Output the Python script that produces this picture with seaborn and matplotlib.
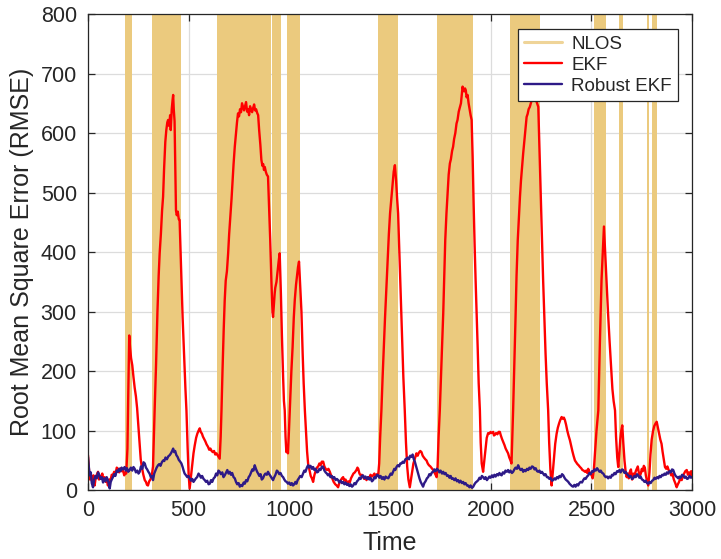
import numpy as np
import pandas as pd
import matplotlib
matplotlib.use("Agg")
import matplotlib.pyplot as plt
from matplotlib.lines import Line2D
import seaborn as sns

# ---- data ----
nlos_start = [186, 320, 643, 916, 986, 1438, 1734, 2098, 2512, 2638, 2774, 2799]
nlos_end = [221, 464, 911, 957, 1055, 1537, 1913, 2244, 2570, 2656, 2787, 2824]

# EKF (time, RMSE) samples
ekf_pts = [
    (0, 59), (5, 35), (10, 18), (17, 22), (22, 12), (27, 25), (33, 8), (38, 20), (44, 26), (50, 31),
    (55, 18), (60, 24), (66, 20), (71, 28), (77, 16), (83, 22), (88, 14), (93, 19), (99, 8), (105, 18),
    (111, 15), (118, 26), (124, 25), (130, 31), (137, 28), (143, 38), (149, 36), (155, 30), (161, 37),
    (168, 32), (174, 34), (180, 25), (186, 30), (190, 28), (196, 70), (200, 160), (205, 260), (209, 240),
    (214, 222), (220, 210), (226, 190), (232, 172), (238, 158), (244, 138), (250, 110), (256, 80),
    (262, 52), (268, 38), (275, 26), (282, 17), (288, 14), (293, 9), (298, 8), (304, 15), (310, 18),
    (315, 22), (319, 30), (323, 40), (327, 90), (331, 134), (338, 210), (345, 300), (351, 360),
    (356, 398), (362, 430), (368, 470), (373, 493), (378, 540), (384, 585), (389, 605), (394, 618),
    (398, 622), (403, 612), (408, 630), (411, 605), (416, 640), (420, 655), (423, 664), (426, 640),
    (430, 620), (434, 540), (437, 470), (441, 462), (446, 468), (451, 455), (455, 454), (462, 380),
    (470, 290), (478, 220), (484, 170), (489, 134), (495, 70), (500, 25), (505, 3), (512, 25), (518, 45),
    (524, 62), (530, 75), (537, 88), (543, 95), (549, 100), (555, 104), (560, 98), (566, 95), (571, 90),
    (577, 86), (583, 82), (589, 77), (596, 73), (602, 68), (608, 70), (614, 66), (620, 64), (626, 66),
    (632, 60), (638, 62), (645, 58), (650, 55), (654, 53), (659, 90), (663, 134), (668, 200), (674, 270),
    (679, 319), (684, 352), (690, 368), (696, 398), (701, 430), (707, 459), (713, 490), (718, 520),
    (723, 548), (729, 577), (735, 600), (740, 618), (745, 633), (750, 628), (755, 640), (760, 635),
    (765, 650), (770, 644), (775, 638), (780, 645), (785, 652), (790, 636), (795, 640), (800, 630),
    (805, 645), (810, 640), (815, 635), (820, 642), (825, 648), (830, 638), (835, 640), (840, 634),
    (845, 630), (850, 605), (856, 580), (861, 555), (866, 545), (870, 548), (874, 538), (878, 543),
    (883, 535), (888, 530), (894, 527), (899, 480), (905, 420), (911, 350), (916, 300), (919, 291),
    (923, 310), (927, 330), (930, 340), (936, 350), (942, 370), (947, 385), (952, 398), (958, 330),
    (963, 260), (969, 190), (973, 150), (977, 134), (981, 90), (985, 64), (989, 72), (993, 62),
    (998, 100), (1004, 150), (1010, 200), (1016, 240), (1022, 290), (1027, 320), (1033, 345),
    (1038, 360), (1043, 375), (1048, 384), (1054, 340), (1060, 300), (1066, 230), (1071, 180),
    (1077, 134), (1083, 95), (1088, 65), (1093, 45), (1099, 35), (1106, 24), (1112, 20), (1118, 14),
    (1124, 25), (1130, 32), (1137, 38), (1143, 40), (1149, 45), (1155, 42), (1161, 48), (1168, 48),
    (1174, 40), (1180, 36), (1187, 34), (1194, 36), (1201, 31), (1207, 25), (1213, 20), (1220, 14),
    (1228, 10), (1235, 8), (1242, 5), (1248, 12), (1254, 16), (1261, 20), (1267, 22), (1273, 16),
    (1279, 18), (1286, 12), (1293, 15), (1300, 13), (1306, 20), (1312, 24), (1318, 28), (1325, 30),
    (1333, 34), (1338, 38), (1342, 36), (1348, 28), (1354, 25), (1360, 26), (1366, 22), (1372, 19),
    (1377, 21), (1383, 17), (1390, 22), (1396, 20), (1403, 26), (1410, 23), (1416, 25), (1422, 28),
    (1428, 24), (1435, 27), (1441, 25), (1446, 45), (1451, 90), (1457, 134), (1463, 190), (1469, 240),
    (1475, 290), (1482, 342), (1488, 385), (1494, 430), (1500, 465), (1507, 493), (1512, 515),
    (1518, 535), (1524, 546), (1530, 520), (1535, 490), (1540, 465), (1547, 390), (1553, 320),
    (1560, 250), (1566, 190), (1573, 134), (1579, 80), (1585, 40), (1591, 18), (1598, 5), (1604, 18),
    (1610, 32), (1616, 45), (1622, 52), (1631, 62), (1637, 58), (1643, 63), (1650, 66), (1656, 64),
    (1662, 58), (1668, 55), (1675, 52), (1681, 50), (1687, 45), (1693, 42), (1700, 40), (1707, 37),
    (1714, 34), (1720, 30), (1726, 26), (1731, 22), (1736, 40), (1741, 90), (1747, 134), (1752, 180),
    (1758, 240), (1764, 297), (1769, 360), (1774, 420), (1780, 465), (1786, 500), (1791, 530),
    (1797, 549), (1802, 556), (1808, 570), (1813, 577), (1818, 590), (1824, 600), (1830, 616),
    (1835, 622), (1841, 636), (1847, 644), (1852, 650), (1856, 665), (1860, 678), (1864, 672),
    (1868, 670), (1872, 675), (1876, 672), (1880, 660), (1885, 664), (1890, 650), (1895, 640),
    (1900, 630), (1905, 622), (1910, 560), (1915, 480), (1920, 410), (1925, 350), (1930, 297),
    (1935, 240), (1940, 180), (1946, 134), (1950, 80), (1955, 45), (1962, 31), (1968, 50), (1974, 70),
    (1980, 88), (1987, 96), (1993, 95), (1999, 98), (2005, 96), (2012, 98), (2016, 92), (2020, 93),
    (2026, 96), (2033, 94), (2039, 98), (2045, 98), (2050, 92), (2056, 86), (2062, 81), (2068, 76),
    (2074, 70), (2080, 66), (2086, 62), (2092, 55), (2098, 50), (2103, 45), (2107, 90), (2111, 134),
    (2117, 210), (2123, 290), (2128, 360), (2134, 420), (2140, 460), (2145, 493), (2150, 520),
    (2156, 545), (2161, 566), (2167, 588), (2172, 608), (2178, 627), (2183, 632), (2188, 640),
    (2194, 644), (2199, 650), (2204, 656), (2210, 660), (2215, 665), (2220, 658), (2225, 655),
    (2230, 650), (2236, 644), (2242, 570), (2248, 490), (2254, 420), (2260, 353), (2266, 290),
    (2272, 230), (2278, 180), (2285, 134), (2290, 80), (2296, 35), (2302, 8), (2308, 30), (2314, 55),
    (2320, 78), (2327, 95), (2333, 105), (2339, 112), (2345, 118), (2352, 123), (2358, 120),
    (2363, 122), (2368, 118), (2374, 110), (2380, 100), (2386, 92), (2393, 84), (2399, 75), (2405, 66),
    (2411, 58), (2418, 50), (2424, 47), (2430, 44), (2436, 42), (2443, 39), (2449, 37), (2455, 34),
    (2461, 33), (2468, 31), (2474, 33), (2479, 29), (2484, 36), (2490, 30), (2495, 28), (2501, 25),
    (2506, 20), (2512, 35), (2517, 60), (2525, 100), (2534, 134), (2542, 250), (2550, 353), (2556, 400),
    (2562, 443), (2568, 400), (2575, 353), (2582, 300), (2590, 250), (2597, 210), (2604, 170),
    (2610, 150), (2617, 134), (2622, 90), (2628, 55), (2633, 39), (2638, 60), (2643, 85), (2648, 100),
    (2653, 109), (2658, 80), (2664, 50), (2670, 30), (2675, 22), (2680, 28), (2685, 20), (2690, 30),
    (2696, 35), (2702, 18), (2708, 28), (2714, 25), (2720, 32), (2726, 37), (2730, 40), (2735, 30),
    (2740, 24), (2745, 28), (2750, 36), (2755, 32), (2760, 41), (2765, 38), (2770, 25), (2776, 15),
    (2782, 8), (2788, 30), (2793, 60), (2799, 85), (2806, 100), (2812, 108), (2818, 112), (2824, 115),
    (2830, 105), (2836, 95), (2842, 85), (2848, 78), (2853, 65), (2859, 52), (2865, 39), (2871, 36),
    (2877, 40), (2883, 34), (2890, 31), (2896, 25), (2902, 28), (2909, 18), (2916, 12), (2923, 5),
    (2929, 10), (2935, 14), (2941, 20), (2948, 17), (2954, 24), (2960, 28), (2966, 32), (2973, 34),
    (2979, 26), (2985, 30), (2991, 24), (2995, 32), (3000, 22),
]

# Robust EKF (time, RMSE) samples
rekf_pts = [
    (0, 56), (4, 40), (8, 25), (14, 30), (19, 12), (25, 5), (31, 18), (37, 24), (44, 20), (50, 30),
    (56, 26), (62, 19), (69, 22), (75, 13), (81, 20), (87, 15), (93, 22), (99, 17), (104, 10), (108, 3),
    (113, 14), (118, 18), (124, 22), (130, 27), (136, 24), (143, 33), (149, 31), (155, 36), (161, 32),
    (167, 38), (174, 35), (182, 39), (188, 33), (194, 37), (200, 31), (207, 34), (213, 38), (220, 33),
    (226, 39), (232, 36), (238, 30), (245, 33), (251, 28), (257, 31), (263, 40), (270, 36), (276, 47),
    (282, 45), (288, 38), (294, 35), (300, 31), (306, 28), (312, 22), (318, 24), (323, 17), (329, 28),
    (335, 33), (341, 38), (348, 42), (354, 44), (360, 41), (367, 47), (373, 50), (379, 49), (385, 55),
    (392, 52), (399, 57), (406, 59), (412, 62), (418, 66), (423, 70), (428, 64), (433, 66), (439, 59),
    (445, 56), (451, 51), (458, 48), (464, 45), (470, 39), (475, 33), (480, 28), (487, 25), (493, 22),
    (499, 24), (505, 20), (512, 16), (518, 19), (524, 14), (530, 17), (536, 20), (542, 22), (549, 28),
    (555, 25), (561, 21), (567, 24), (574, 19), (580, 17), (586, 14), (592, 16), (599, 10), (605, 11),
    (611, 17), (617, 14), (624, 20), (630, 22), (636, 28), (642, 25), (648, 33), (654, 31), (660, 27),
    (667, 30), (673, 22), (679, 25), (685, 29), (692, 34), (698, 28), (704, 31), (710, 26), (716, 29),
    (723, 22), (729, 20), (735, 14), (741, 10), (748, 12), (754, 6), (760, 9), (766, 7), (773, 13),
    (779, 11), (785, 17), (791, 15), (798, 22), (804, 25), (810, 30), (816, 35), (822, 33), (828, 42),
    (834, 36), (840, 31), (845, 28), (851, 24), (857, 27), (863, 18), (869, 20), (875, 25), (881, 28),
    (888, 26), (894, 31), (900, 27), (906, 24), (913, 20), (919, 17), (925, 22), (931, 26), (938, 33),
    (944, 31), (950, 27), (956, 29), (963, 24), (969, 22), (975, 18), (981, 15), (987, 14), (993, 11),
    (999, 13), (1006, 9), (1012, 12), (1018, 8), (1024, 10), (1030, 14), (1035, 11), (1041, 17),
    (1047, 20), (1054, 24), (1061, 22), (1068, 28), (1074, 33), (1080, 31), (1087, 38), (1093, 42),
    (1099, 38), (1105, 41), (1112, 36), (1118, 39), (1124, 34), (1130, 36), (1137, 30), (1143, 31),
    (1149, 36), (1155, 34), (1162, 40), (1168, 39), (1174, 33), (1180, 30), (1186, 28), (1192, 25),
    (1198, 27), (1204, 22), (1211, 24), (1217, 20), (1223, 22), (1230, 17), (1236, 19), (1242, 17),
    (1248, 13), (1254, 16), (1261, 12), (1267, 14), (1273, 10), (1279, 13), (1286, 9), (1292, 11),
    (1298, 7), (1304, 10), (1311, 6), (1317, 8), (1323, 12), (1329, 10), (1336, 15), (1342, 17),
    (1348, 21), (1354, 19), (1360, 24), (1366, 25), (1372, 20), (1378, 23), (1385, 19), (1391, 22),
    (1397, 18), (1403, 21), (1410, 15), (1416, 17), (1422, 22), (1428, 20), (1435, 26), (1441, 25),
    (1447, 21), (1453, 24), (1460, 19), (1466, 22), (1472, 18), (1478, 23), (1485, 21), (1491, 20),
    (1497, 24), (1503, 28), (1509, 26), (1515, 31), (1521, 36), (1526, 34), (1532, 39), (1538, 42),
    (1545, 40), (1551, 45), (1557, 45), (1563, 48), (1569, 46), (1576, 52), (1582, 53), (1588, 55),
    (1594, 52), (1600, 58), (1607, 56), (1612, 60), (1618, 52), (1623, 48), (1628, 42), (1634, 35),
    (1640, 28), (1646, 20), (1652, 14), (1658, 10), (1664, 6), (1670, 12), (1676, 15), (1683, 20),
    (1689, 22), (1695, 27), (1701, 25), (1708, 30), (1714, 31), (1720, 35), (1726, 32), (1733, 36),
    (1739, 34), (1745, 30), (1751, 33), (1758, 28), (1764, 31), (1770, 27), (1776, 29), (1783, 24),
    (1789, 25), (1795, 21), (1801, 24), (1807, 19), (1813, 20), (1819, 17), (1825, 20), (1832, 15),
    (1838, 17), (1844, 13), (1850, 16), (1857, 12), (1863, 14), (1869, 10), (1875, 12), (1882, 8),
    (1888, 8), (1894, 5), (1900, 8), (1907, 4), (1913, 6), (1919, 10), (1925, 13), (1932, 15),
    (1938, 17), (1944, 21), (1950, 19), (1956, 24), (1962, 22), (1968, 19), (1974, 22), (1981, 17),
    (1987, 20), (1993, 23), (1999, 21), (2006, 25), (2012, 22), (2018, 26), (2024, 23), (2031, 27),
    (2037, 25), (2043, 29), (2049, 26), (2054, 25), (2060, 30), (2067, 28), (2073, 33), (2080, 31),
    (2086, 34), (2092, 30), (2098, 33), (2105, 29), (2111, 31), (2117, 35), (2123, 38), (2130, 36),
    (2136, 42), (2142, 37), (2148, 34), (2155, 36), (2161, 31), (2167, 34), (2173, 32), (2180, 36),
    (2186, 34), (2192, 38), (2198, 36), (2205, 40), (2211, 39), (2217, 35), (2223, 37), (2230, 32),
    (2236, 31), (2242, 33), (2248, 29), (2254, 31), (2260, 28), (2266, 25), (2272, 27), (2279, 22),
    (2285, 22), (2291, 19), (2297, 21), (2304, 16), (2310, 17), (2316, 20), (2322, 18), (2329, 22),
    (2335, 20), (2341, 24), (2347, 22), (2354, 27), (2360, 25), (2366, 21), (2372, 18), (2379, 16),
    (2385, 14), (2391, 11), (2397, 9), (2403, 7), (2409, 6), (2415, 9), (2421, 6), (2428, 10),
    (2434, 8), (2440, 12), (2446, 14), (2453, 13), (2459, 17), (2465, 20), (2471, 19), (2478, 23),
    (2484, 25), (2490, 29), (2496, 27), (2503, 32), (2509, 31), (2515, 35), (2521, 33), (2528, 37),
    (2534, 34), (2540, 31), (2546, 33), (2553, 29), (2559, 28), (2565, 24), (2571, 22), (2577, 23),
    (2583, 20), (2589, 23), (2596, 21), (2602, 26), (2608, 25), (2614, 29), (2620, 27), (2627, 32),
    (2633, 31), (2639, 34), (2645, 30), (2652, 35), (2658, 34), (2664, 29), (2670, 31), (2677, 27),
    (2683, 25), (2689, 22), (2695, 24), (2701, 19), (2707, 20), (2713, 24), (2720, 22), (2726, 27),
    (2732, 25), (2738, 21), (2744, 23), (2751, 18), (2757, 17), (2763, 14), (2769, 16), (2776, 12),
    (2782, 11), (2788, 14), (2794, 12), (2801, 16), (2807, 17), (2813, 21), (2819, 19), (2826, 22),
    (2832, 20), (2838, 24), (2844, 22), (2851, 26), (2857, 25), (2863, 28), (2869, 26), (2875, 30),
    (2881, 28), (2887, 32), (2894, 30), (2900, 35), (2906, 34), (2912, 28), (2918, 24), (2925, 22),
    (2931, 20), (2937, 23), (2943, 21), (2950, 26), (2956, 25), (2962, 21), (2968, 23), (2975, 19),
    (2981, 20), (2987, 24), (2994, 21), (3000, 22),
]

x_ticks = [0, 500, 1000, 1500, 2000, 2500, 3000]
y_ticks = [0, 100, 200, 300, 400, 500, 600, 700, 800]
legend_labels = ["NLOS", "EKF", "Robust EKF"]

# ---- style ----
sns.set_style("ticks")
plt.rcParams["font.family"] = ["Liberation Sans", "DejaVu Sans"]

NLOS_COLOR = "#EBCA7E"
EKF_COLOR = "#FF0000"
REKF_COLOR = "#2E1A87"
TEXT_COLOR = "#262626"

fig = plt.figure(figsize=(7.21, 5.59), dpi=100)
ax = fig.add_axes([0.122, 0.123, 0.838, 0.852])

for s, e in zip(nlos_start, nlos_end):
    ax.axvspan(s, e, color=NLOS_COLOR, lw=0, zorder=1)

df_ekf = pd.DataFrame(ekf_pts, columns=["Time", "RMSE"])
df_rekf = pd.DataFrame(rekf_pts, columns=["Time", "RMSE"])
sns.lineplot(data=df_ekf, x="Time", y="RMSE", ax=ax, color=EKF_COLOR, lw=1.7,
             estimator=None, sort=False, zorder=3)
sns.lineplot(data=df_rekf, x="Time", y="RMSE", ax=ax, color=REKF_COLOR, lw=1.7,
             estimator=None, sort=False, zorder=4)

ax.set_xlim(0, 3000)
ax.set_ylim(0, 800)
ax.set_xticks(x_ticks)
ax.set_yticks(y_ticks)
ax.set_axisbelow(True)
ax.grid(True, color="#dcdcdc", lw=0.9, zorder=0)
ax.tick_params(direction="in", top=True, right=True, length=5, width=0.9,
               labelsize=15.5, colors=TEXT_COLOR)
ax.tick_params(axis="y", pad=8)
ax.tick_params(axis="x", pad=7)
for sp in ax.spines.values():
    sp.set_visible(True)
    sp.set_color(TEXT_COLOR)
    sp.set_linewidth(0.9)
    sp.set_zorder(6)

ax.set_xlabel("Time", fontsize=18, color=TEXT_COLOR, labelpad=7)
ax.set_ylabel("Root Mean Square Error (RMSE)", fontsize=18, color=TEXT_COLOR, labelpad=5)

handles = [Line2D([], [], color=NLOS_COLOR, lw=2.2, alpha=0.8),
           Line2D([], [], color=EKF_COLOR, lw=1.7),
           Line2D([], [], color=REKF_COLOR, lw=1.7)]
leg = ax.legend(handles, legend_labels, loc="upper right",
                bbox_to_anchor=(0.977, 0.968), borderaxespad=0, fontsize=13.5,
                frameon=True, fancybox=False, framealpha=1, edgecolor=TEXT_COLOR,
                handlelength=2.0, handletextpad=0.5, borderpad=0.35, labelspacing=0.2)
leg.get_frame().set_linewidth(0.9)
leg.set_zorder(10)

fig.savefig("out.png", dpi=100)
